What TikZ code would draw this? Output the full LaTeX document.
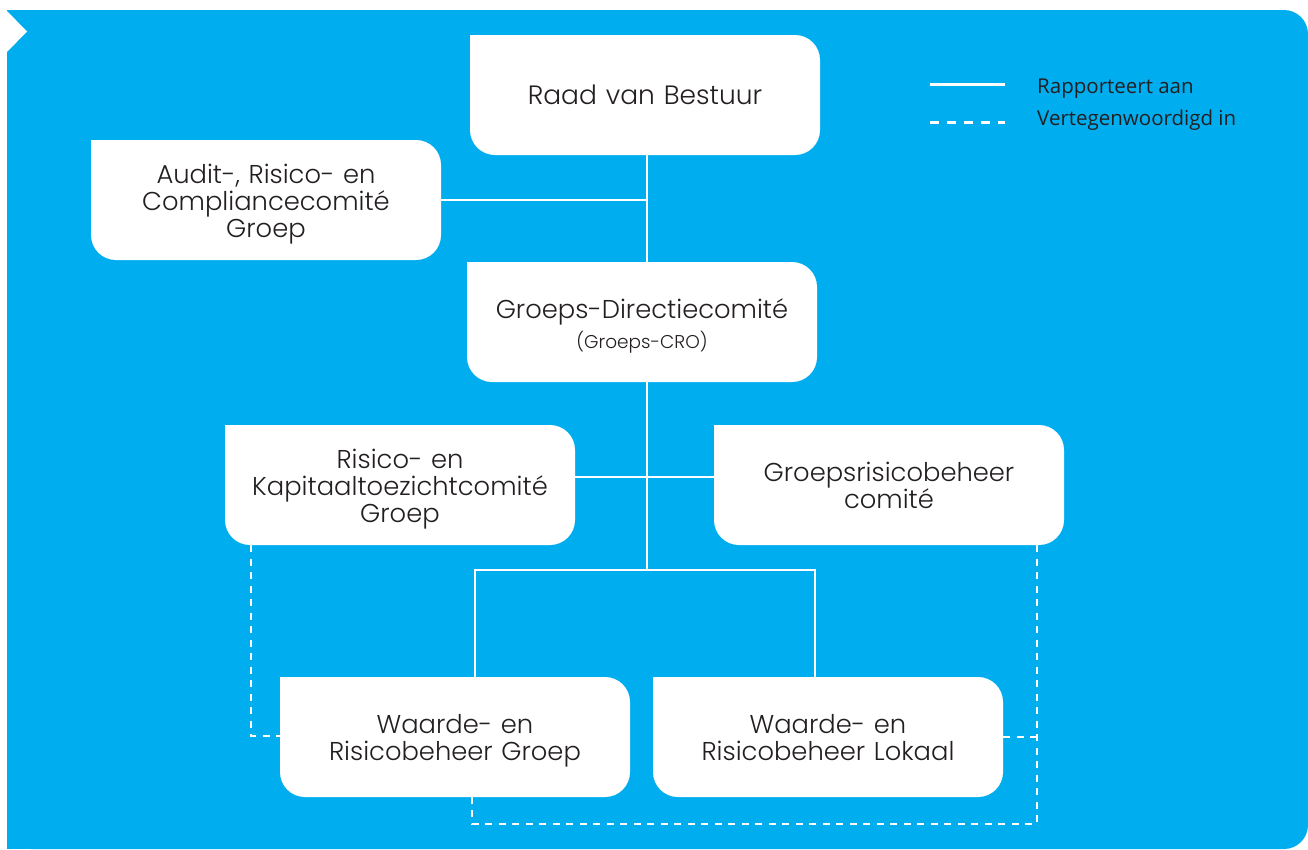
\documentclass[tikz,border=0pt]{standalone}
\usepackage{fontspec}
\setmainfont{Poppins Light}
\newfontfamily\legendfont{Open Sans}
\usetikzlibrary{calc}
\definecolor{panelblue}{HTML}{00AEEF}
\definecolor{ink}{HTML}{231F20}
\begin{document}
\begin{tikzpicture}[x=1pt,y=-1pt,
  box/.style={fill=white, rounded corners=25pt, minimum width=350pt, minimum height=120pt,
    inner sep=0pt},
  boxtext/.style={inner sep=0pt, text width=340pt, align=center, text=ink,
    font=\fontsize{25.8}{27}\selectfont},
  conn/.style={draw=white, line width=2.5pt},
  rep/.style={draw=white, line width=2.5pt, dash pattern=on 7pt off 6.5pt},
  legendtext/.style={text=ink, inner sep=0pt, font=\legendfont\fontsize{20.5}{24}\selectfont},
]
\useasboundingbox (0,0) rectangle (1308,849);

% panel with rounded right corners and a notch on the left
\fill[panelblue, rounded corners=24pt] (7,10) rectangle (1308,849);
\fill[panelblue] (7,10) rectangle (50,50);
\fill[panelblue] (7,849) rectangle (50,800);
\fill[white] (6,10) -- (27,31.5) -- (6,53) -- cycle;

% boxes
\node[box] (raad) at (645,95) {};
\node[box] (audit) at (266,200) {};
\node[box] (gdc) at (642,322) {};
\node[box] (rkt) at (400,485) {};
\node[box] (grb) at (889,485) {};
\node[box] (wrg) at (455,737) {};
\node[box] (wrl) at (828,737) {};

% square top-left corners
\foreach \b in {raad,audit,gdc,rkt,grb,wrg,wrl}
  \fill[white] (\b.north west) rectangle ++(27,27);

% box labels
\node[boxtext, font=\fontsize{26.5}{30}\selectfont] (raad-t) at (raad.center) {Raad van Bestuur};
\node[boxtext] (audit-t) at ([yshift=-4.5pt]audit.center) {Audit-, Risico- en\\Compliancecomité\\Groep};
\node[boxtext] (gdc-t) at ([yshift=-4pt]gdc.center) {Groeps-Directiecomité\\[3pt]{\fontsize{18.5}{21}\selectfont (Groeps-CRO)}};
\node[boxtext] (rkt-t) at ([yshift=-4pt]rkt.center) {Risico- en\\Kapitaaltoezichtcomité\\Groep};
\node[boxtext] (grb-t) at ([yshift=-0.5pt]grb.center) {Groepsrisicobeheer\\comité};
\node[boxtext] (wrg-t) at ([yshift=-3.5pt]wrg.center) {Waarde- en\\Risicobeheer Groep};
\node[boxtext] (wrl-t) at ([yshift=-0.5pt]wrl.center) {Waarde- en\\Risicobeheer Lokaal};

% reporting lines
\coordinate (spine) at (647,0);
\coordinate (split) at (647,570);
\coordinate (jl) at (475,570);
\coordinate (jr) at (815,570);
\draw[conn] (raad.south -| spine) -- (gdc.north -| spine);
\draw[conn] (audit.east) -- (audit.east -| spine);
\draw[conn] (gdc.south -| spine) -- (split);
\draw[conn] ([yshift=8pt]rkt.east) -- ([yshift=8pt]grb.west);
\draw[conn] (jl |- wrg.north) -- (jl) -- (jr) -- (jr |- wrl.north);

% representation lines
\coordinate (dl) at (251,736);
\coordinate (dr) at (1037,824);
\coordinate (db) at (472,824);
\draw[rep] (rkt.south -| dl) -- (dl) -- (dl -| wrg.west);
\draw[rep] (grb.south -| dr) -- (dr) -- (db) -- (db |- wrg.south);
\draw[rep] (wrl.east) -- (wrl.east -| dr);

% legend
\coordinate (s1) at (930,84);
\coordinate (s2) at (1005,84);
\coordinate (d1) at (930,122);
\coordinate (d2) at (1005,122);
\draw[white, line width=3pt] (s1) -- (s2);
\draw[white, line width=3pt, dash pattern=on 9pt off 8pt] (d1) -- (d2);
\node[legendtext, anchor=base west] (lg1) at (1037,93) {Rapporteert aan};
\node[legendtext, anchor=base west] (lg2) at (1037,125) {Vertegenwoordigd in};
\end{tikzpicture}
\end{document}
